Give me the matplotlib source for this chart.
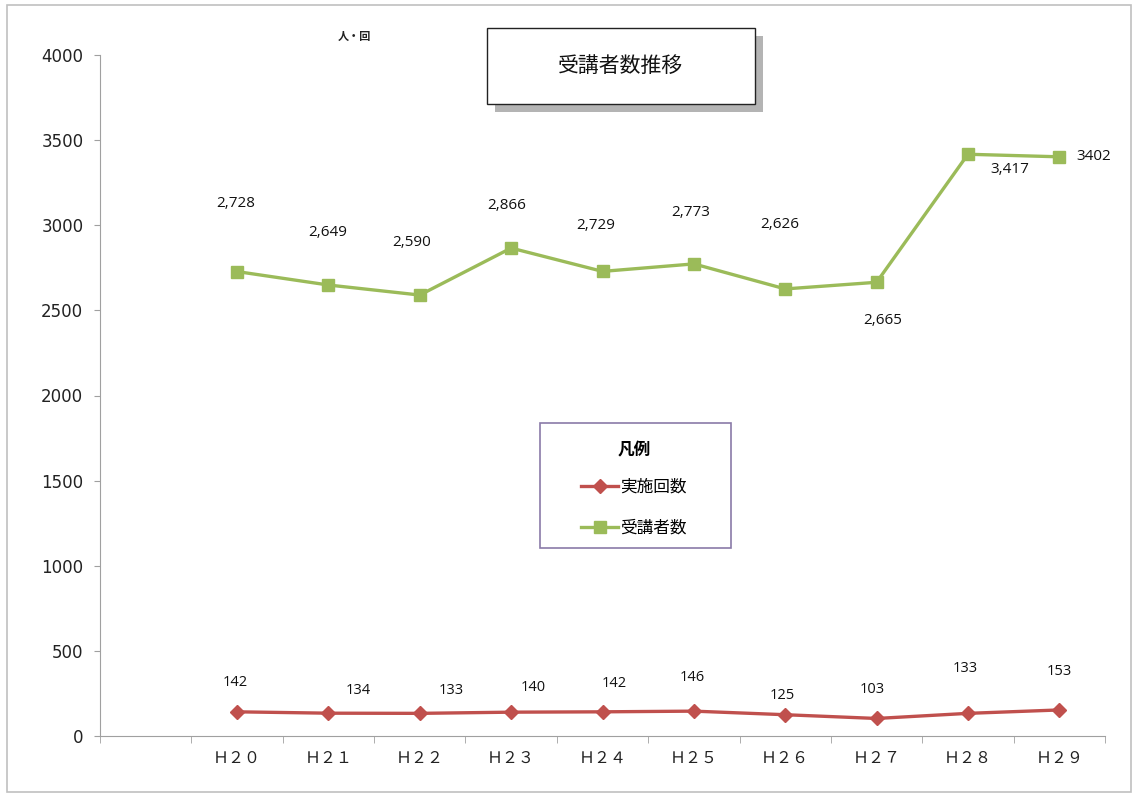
import numpy as np
import matplotlib.pyplot as plt
from matplotlib.patches import Rectangle

# data
years = ['Ｈ２０', 'Ｈ２１', 'Ｈ２２', 'Ｈ２３', 'Ｈ２４', 'Ｈ２５', 'Ｈ２６', 'Ｈ２７', 'Ｈ２８', 'Ｈ２９']
sessions = [142, 134, 133, 140, 142, 146, 125, 103, 133, 153]
attendees = [2728, 2649, 2590, 2866, 2729, 2773, 2626, 2665, 3417, 3402]
attendee_labels = ['2,728', '2,649', '2,590', '2,866', '2,729', '2,773', '2,626', '2,665', '3,417', '3402']
session_labels = ['142', '134', '133', '140', '142', '146', '125', '103', '133', '153']

# label offsets in pixels (dx, dy)
att_off = [(-1, 68), (-1, 53), (-8, 53), (-4, 43), (-7, 46), (-3, 51), (-5, 64), (6, -38), (42, -15), (34, 0)]
ses_off = [(-2, 29), (30, 23), (31, 23), (22, 25), (12, 28), (-2, 34), (-3, 19), (-4, 29), (-3, 45), (0, 38)]

plt.rcParams['font.family'] = ['DejaVu Sans']
W, H = 1135, 793
fig = plt.figure(figsize=(W / 100, H / 100), dpi=100)
ax = fig.add_axes([100 / W, 1 - 736 / H, 1005 / W, 681 / H])

x = np.arange(1, len(years) + 1)
red = '#c0504d'
green = '#9bbb59'
ax.plot(x, sessions, color=red, lw=2.4, marker='D', markersize=7.5, label='実施回数')
ax.plot(x, attendees, color=green, lw=2.4, marker='s', markersize=9, label='受講者数')

for xi, v, t, (dx, dy) in zip(x, attendees, attendee_labels, att_off):
    ax.annotate(t, (xi, v), xytext=(dx, dy), textcoords='offset pixels',
                ha='center', va='center', fontsize=11, family='Open Sans', color='#111111')
for xi, v, t, (dx, dy) in zip(x, sessions, session_labels, ses_off):
    ax.annotate(t, (xi, v), xytext=(dx, dy), textcoords='offset pixels',
                ha='center', va='center', fontsize=10.5, family='Open Sans', color='#111111')

ax.set_xlim(-0.5, len(years) + 0.5)
ax.set_ylim(0, 4000)
ax.set_yticks(np.arange(0, 4001, 500))
ax.tick_params(axis='y', labelsize=12, colors='#a0a0a0', labelcolor='#222222', length=4, pad=8)
ax.set_xticks(x)
ax.set_xticklabels(years, family='Noto Sans CJK JP', fontsize=11.5, color='#222222')
ax.set_xticks(np.arange(-0.5, len(years) + 1), minor=True)
ax.tick_params(axis='x', which='major', length=0, pad=10)
ax.tick_params(axis='x', which='minor', length=5, color='#a0a0a0')
for s in ['top', 'right']:
    ax.spines[s].set_visible(False)
for s in ['left', 'bottom']:
    ax.spines[s].set_color('#a0a0a0')

leg = ax.legend(title='凡例', loc='upper center', bbox_to_anchor=(634 / W, 1 - 441 / H),
                bbox_transform=fig.transFigure, prop={'family': 'Noto Sans CJK JP', 'size': 12},
                frameon=False, borderpad=0, labelspacing=1.45, handlelength=2.2,
                handletextpad=0.15, borderaxespad=0)
leg.get_title().set_fontproperties({'family': 'Noto Sans CJK JP', 'size': 12, 'weight': 'bold'})
leg._legend_box.sep = 14


def px_rect(x0, y0, x1, y1, **kw):
    fig.patches.append(Rectangle((x0 / W, 1 - y1 / H), (x1 - x0) / W, (y1 - y0) / H,
                                 transform=fig.transFigure, figure=fig, **kw))


# outer frame
px_rect(7, 5, 1131, 792, fill=False, edgecolor='#c0c0c0', lw=1.2)
# legend frame
px_rect(540, 423, 731, 548, fill=False, edgecolor='#8a7aa8', lw=1.2)
# title box with shadow
px_rect(495, 36, 763, 112, facecolor='#b4b4b4', edgecolor='none')
px_rect(487, 28, 755, 104, facecolor='white', edgecolor='#222222', lw=1)
fig.text(621 / W, 1 - 66 / H, '受講者数推移', ha='center', va='center',
         family='Noto Sans CJK JP', fontsize=15, color='#111111')
fig.text(354 / W, 1 - 36 / H, '人・回', ha='center', va='center',
         family='Noto Sans CJK JP', fontsize=8, weight='bold', color='#222222')

fig.savefig('out.png', dpi=100)
